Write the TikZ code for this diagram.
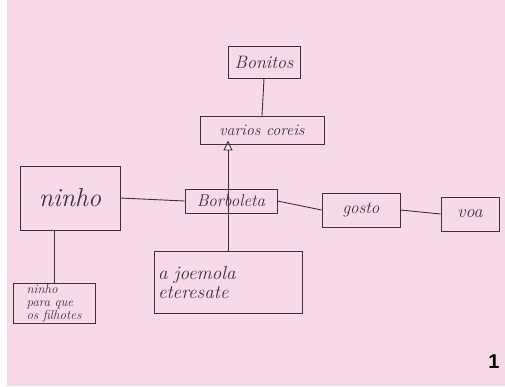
\documentclass[tikz,border=0pt]{standalone}
\usetikzlibrary{arrows.meta}
\usepackage{fontspec}
\newfontfamily\labelfont{Liberation Sans}
\definecolor{paper}{HTML}{F7D9E8}
\definecolor{ink}{HTML}{3A3236}
\tikzset{
  box/.style={draw=ink, line width=0.9pt, inner sep=2pt, text=ink},
  link/.style={draw=ink, line width=0.9pt},
}
\newcommand{\fs}[1]{\fontsize{#1}{1.0\dimexpr#1pt\relax}\selectfont\itshape}
\begin{document}
\begin{tikzpicture}[x=1pt,y=-1pt]
\fill[white] (0,0) rectangle (505,386);
\fill[paper] (7,0) rectangle (505,386);
\useasboundingbox (0,0) rectangle (505,386);
\node[box, minimum width=72, minimum height=32, font=\fs{18}] (bon) at (264,62) {Bonitos};
\node[box, minimum width=124, minimum height=28, font=\fs{16}] (var) at (262,130) {varios coreis};
\node[box, minimum width=100, minimum height=64, font=\fs{26}] (nin) at (70,198) {ninho};
\node[box, minimum width=92, minimum height=24, inner sep=1pt, font=\fs{17}] (bor) at (231,201) {Borboleta};
\node[box, minimum width=78, minimum height=34, font=\fs{17}] (gos) at (361,210) {gosto};
\node[box, minimum width=58, minimum height=34, font=\fs{18}] (voa) at (470,214) {voa};
\node[box, minimum width=82, minimum height=40, inner sep=1pt, align=left, font=\fs{13}] (par) at (54,303) {ninho\\para que\\os filhotes};
\node[box, minimum width=148, minimum height=62, align=left, text width=140, inner sep=3pt, font=\fs{19}] (joe) at (228,282) {a joemola\\eteresate};
\node[font=\labelfont\bfseries\fontsize{20}{22}\selectfont] (num) at (494,362) {1};
\draw[link] (bon.south) -- (var.north);
\draw[link] (nin.east) -- (bor.west);
\draw[link] (bor.east) -- (gos.west);
\draw[link] (gos.east) -- (voa.west);
\draw[link] (nin.south -| par.north) -- (par.north);
\coordinate (tip) at ([yshift=4]var.south -| joe.north);
\draw[link, -{Triangle[open, length=10pt, width=9pt]}] (joe.north) -- (tip);
\end{tikzpicture}
\end{document}
